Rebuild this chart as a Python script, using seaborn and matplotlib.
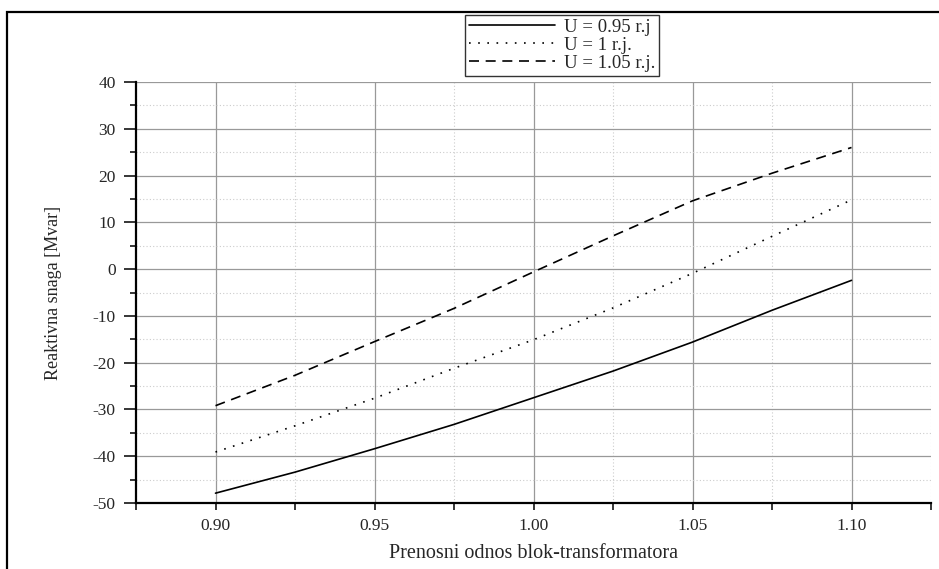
import numpy as np
import pandas as pd
import matplotlib
matplotlib.use("Agg")
import matplotlib.pyplot as plt
from matplotlib.patches import Rectangle
from matplotlib.ticker import MultipleLocator
import seaborn as sns

# Prenosni odnos i reaktivna snaga za tri napona
odnos = [0.900, 0.925, 0.950, 0.975, 1.000, 1.025, 1.050, 1.075, 1.100]
q_095 = [-47.9, -43.4, -38.4, -33.2, -27.5, -21.8, -15.6, -8.8, -2.4]
q_100 = [-39.1, -33.5, -27.6, -21.2, -15.1, -8.3, -0.9, 7.0, 14.8]
q_105 = [-29.2, -22.7, -15.5, -8.4, -0.6, 7.1, 14.6, 20.5, 26.0]
oznake = ["U = 0.95 r.j", "U = 1 r.j.", "U = 1.05 r.j."]
stilovi = ["-", (0, (1.0, 4.5)), (0, (6.0, 4.0))]

sns.set_style("white")
plt.rcParams["font.family"] = ["Liberation Serif", "DejaVu Serif"]
plt.rcParams["axes.unicode_minus"] = False

fig = plt.figure(figsize=(9.39, 5.69), dpi=100)
ax = fig.add_axes([136 / 939, 1 - 503 / 569, (931 - 136) / 939, (503 - 82) / 569])

for vals, lab, ls in zip([q_095, q_100, q_105], oznake, stilovi):
    sns.lineplot(x=odnos, y=vals, ax=ax, color="black", linestyle=ls,
                 linewidth=1.2, label=lab, legend=False)

ax.set_xlim(0.875, 1.125)
ax.set_ylim(-50, 40)
ax.xaxis.set_minor_locator(MultipleLocator(0.025))
ax.yaxis.set_major_locator(MultipleLocator(10))
ax.yaxis.set_minor_locator(MultipleLocator(5))
ax.set_xticks([0.90, 0.95, 1.00, 1.05, 1.10])
ax.set_xticklabels(["0.90", "0.95", "1.00", "1.05", "1.10"])

ax.grid(which="major", color="#999999", linewidth=0.9, linestyle="-")
ax.grid(which="minor", color="#cccccc", linewidth=0.8, linestyle=(0, (1, 2)))
ax.set_axisbelow(True)

for s in ["top", "right"]:
    ax.spines[s].set_visible(False)
for s in ["left", "bottom"]:
    ax.spines[s].set_color("black")
    ax.spines[s].set_linewidth(1.6)

ax.tick_params(axis="y", which="major", direction="out", length=8.5, width=1.3,
               pad=6, labelsize=12.5, left=True)
ax.tick_params(axis="y", which="minor", direction="out", length=4.3, width=1.3, left=True)
ax.tick_params(axis="x", which="both", direction="out", length=5, width=1.3,
               pad=6, labelsize=12.5, bottom=True)

ax.set_xlabel("Prenosni odnos blok-transformatora", fontsize=14.5, labelpad=7)
ax.set_ylabel("Reaktivna snaga [Mvar]", fontsize=13, labelpad=22)

leg = fig.legend(loc="upper center", bbox_to_anchor=(562 / 939, 1 - 15 / 569),
                 fontsize=13.5, handlelength=4.6, frameon=True, fancybox=False,
                 borderpad=0.2, labelspacing=0.05, handletextpad=0.5,
                 borderaxespad=0)
leg.get_frame().set_edgecolor("black")
leg.get_frame().set_linewidth(1.0)

# okvir slike
fig.patches.append(Rectangle((7 / 939, -0.1), 1.2, 1.1 - 12 / 569,
                             transform=fig.transFigure, fill=False,
                             edgecolor="black", linewidth=1.6))

fig.savefig("out.png", dpi=100)
plt.close(fig)
